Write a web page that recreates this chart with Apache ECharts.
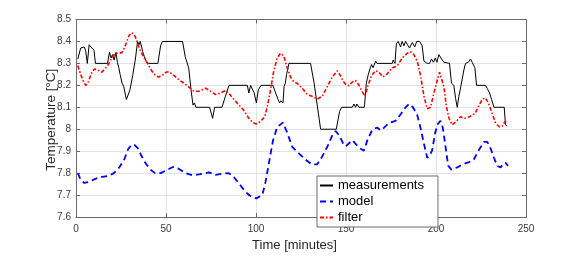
<!DOCTYPE html>
<html><head><meta charset="utf-8">
<script src="https://cdn.jsdelivr.net/npm/echarts@6/dist/echarts.min.js"></script>
<style>html,body{margin:0;padding:0;background:#fff}#c{width:581px;height:257px}</style>
</head><body><div id="c"></div>
<script>
var xTicks = [0, 50, 100, 150, 200, 250];
var yTicks = [7.6, 7.7, 7.8, 7.9, 8.0, 8.1, 8.2, 8.3, 8.4, 8.5];
var seriesNames = ['measurements', 'model', 'filter'];

var measurements = [[1,8.32],[2,8.32],[2.6,8.37],[3.5,8.365],[4.6,8.375],[5.3,8.36],[6.3,8.3],[7.3,8.385],[8.8,8.37],[10,8.36],[10.8,8.3],[17.5,8.3],[18.6,8.35],[19.5,8.325],[20.3,8.34],[21.2,8.315],[22.2,8.35],[23,8.305],[23.8,8.28],[24.5,8.25],[25.6,8.21],[26.5,8.195],[28,8.135],[29,8.14],[30,8.18],[31.5,8.245],[33,8.32],[34.2,8.4],[35,8.385],[35.7,8.4],[37,8.355],[38,8.33],[39.5,8.3],[45.5,8.3],[47,8.38],[48,8.4],[59.2,8.4],[60.7,8.33],[62.6,8.28],[63.9,8.18],[65,8.11],[65.8,8.12],[66.6,8.1],[74.2,8.1],[75.9,8.05],[77,8.1],[81.1,8.1],[83,8.15],[85,8.2],[95.2,8.2],[96,8.165],[97,8.2],[99,8.165],[100.2,8.12],[101.3,8.18],[102.8,8.2],[109.4,8.2],[110.9,8.165],[112.3,8.135],[113.1,8.12],[113.8,8.13],[115,8.12],[115.6,8.195],[116.3,8.21],[117,8.25],[118.3,8.3],[130.3,8.3],[132.3,8.21],[134,8.11],[135.9,8.0],[144.6,8.0],[146.4,8.08],[147.6,8.1],[153.5,8.1],[154.4,8.115],[155.3,8.1],[156,8.115],[157.2,8.1],[160.2,8.1],[161.3,8.21],[162.4,8.25],[163.5,8.28],[164.2,8.295],[165,8.28],[166.5,8.31],[167.2,8.3],[175.7,8.3],[176.2,8.315],[177.2,8.3],[178,8.39],[179,8.4],[180.3,8.375],[181.2,8.4],[182.2,8.38],[183.1,8.4],[184.2,8.385],[185.3,8.37],[186.8,8.395],[188.2,8.375],[189.3,8.4],[190.9,8.4],[192.3,8.38],[193.3,8.31],[195.1,8.3],[196.4,8.3],[197.5,8.32],[198.6,8.305],[199.6,8.325],[200.5,8.305],[201.6,8.34],[203.1,8.32],[204.4,8.305],[207.5,8.3],[208.6,8.21],[209.9,8.2],[210.9,8.14],[211.8,8.1],[212.7,8.15],[213.8,8.195],[214.6,8.2],[215.5,8.27],[216.4,8.3],[217.9,8.305],[219.2,8.32],[220.1,8.305],[221.6,8.28],[222.5,8.2],[227.5,8.2],[228.5,8.185],[229.8,8.165],[230.9,8.135],[232.2,8.1],[237.9,8.1],[238.6,8.02],[239.6,8.015]];

var model = [[1,7.8],[2.6,7.77],[4.6,7.755],[7.2,7.76],[11,7.775],[14.6,7.783],[18.3,7.788],[21,7.8],[24,7.825],[26.8,7.862],[29,7.91],[31,7.93],[32.5,7.928],[34.2,7.915],[36,7.885],[38.4,7.848],[41,7.818],[44,7.8],[47,7.8],[50,7.812],[53.8,7.828],[57,7.82],[60.9,7.8],[64.9,7.79],[69,7.795],[73.8,7.803],[77.5,7.792],[81.2,7.797],[84.9,7.8],[87.7,7.782],[90.5,7.753],[93.8,7.718],[96.4,7.698],[100.1,7.685],[103.5,7.7],[105.3,7.76],[107.2,7.847],[109.4,7.947],[111.8,8.01],[114.9,8.03],[117.3,7.985],[120.1,7.92],[123.8,7.89],[127.5,7.862],[130.9,7.84],[134,7.84],[136.8,7.876],[139.6,7.92],[142.3,7.97],[144.2,7.992],[146.4,7.97],[148.8,7.928],[150,7.923],[153.5,7.95],[156.3,7.925],[158,7.912],[159.9,7.902],[161.8,7.948],[164.6,7.998],[167.3,8.008],[169.2,7.995],[171,8.006],[173.8,8.028],[177.5,8.038],[180.3,8.067],[183.1,8.1],[185,8.115],[187.2,8.1],[189.6,8.064],[191.4,8.006],[193.3,7.934],[195.1,7.87],[196.4,7.877],[197.9,7.905],[199.4,7.978],[200.7,8.021],[202.5,8.038],[203.8,8.006],[205.3,7.92],[206.8,7.833],[208.6,7.816],[211.8,7.826],[214.6,7.84],[218.3,7.85],[221,7.862],[223.8,7.905],[226.6,7.942],[228.5,7.942],[230.3,7.913],[232.2,7.87],[234,7.833],[235.9,7.826],[237.2,7.84],[238.6,7.847],[240,7.833]];

var filter = [[1,8.29],[2.6,8.25],[4,8.22],[5.4,8.2],[6.6,8.21],[7.9,8.24],[9.1,8.265],[10.5,8.275],[12.4,8.268],[14.3,8.26],[16.1,8.275],[18,8.295],[19.8,8.325],[21.7,8.345],[23.5,8.348],[25.4,8.348],[26.7,8.368],[28,8.394],[29.4,8.426],[30.8,8.44],[32.2,8.433],[33.5,8.411],[34.6,8.382],[36,8.353],[37.7,8.327],[39.6,8.302],[41.5,8.273],[43.3,8.252],[45.7,8.238],[48,8.245],[50,8.26],[51.6,8.262],[54.4,8.245],[57.2,8.225],[60,8.21],[62.7,8.192],[65.5,8.173],[68.3,8.173],[72,8.187],[74.8,8.173],[77.5,8.158],[80.3,8.165],[83.1,8.177],[85,8.163],[87.7,8.137],[90.5,8.11],[93.3,8.086],[96,8.05],[98.3,8.03],[100.1,8.024],[102.5,8.036],[104.9,8.057],[106.4,8.108],[108.1,8.18],[109.9,8.267],[111.8,8.325],[113.6,8.346],[115.5,8.332],[117.3,8.28],[119.2,8.237],[121,8.216],[122.9,8.209],[125.7,8.187],[128.5,8.158],[131.2,8.15],[134,8.137],[136.8,8.15],[139.6,8.194],[142.3,8.237],[145.1,8.266],[146.9,8.245],[148.3,8.22],[149.8,8.205],[151.6,8.198],[153.5,8.215],[155.3,8.222],[157.2,8.2],[159,8.172],[160.5,8.15],[162.3,8.2],[164.2,8.245],[166.4,8.267],[168.3,8.26],[170.5,8.238],[172.9,8.252],[175.7,8.28],[178.4,8.288],[181.2,8.324],[184,8.346],[185.9,8.353],[187.7,8.34],[189.6,8.31],[191.4,8.245],[193.3,8.151],[195.1,8.093],[197,8.1],[198.8,8.165],[200.7,8.223],[202,8.26],[203.1,8.252],[204.4,8.194],[205.7,8.107],[207.2,8.05],[209,8.02],[211.2,8.035],[213.6,8.057],[216,8.05],[218.6,8.057],[221.6,8.071],[223.8,8.107],[225.7,8.136],[227.2,8.144],[229,8.122],[230.9,8.079],[233.1,8.028],[235.3,8.01],[236.8,8.014],[238.3,8.035],[239.6,8.028]];

var FONT = '"Liberation Sans", Arial, Helvetica, sans-serif';
var chart = echarts.init(document.getElementById('c'), null, {renderer: 'canvas'});
var lineCol = '#6b6b6b';
var gridLine = {show: true, lineStyle: {color: '#e3e3e3', width: 1}};
function xAx(pos, showLabel) {
  return {
    type: 'value', position: pos, min: xTicks[0], max: xTicks[xTicks.length - 1],
    interval: xTicks[1] - xTicks[0],
    name: showLabel ? 'Time [minutes]' : '', nameLocation: 'middle', nameGap: 22,
    nameMoveOverlap: false,
    nameTextStyle: {fontFamily: FONT, fontSize: 13, color: '#262626', padding: [0, 13, 0, 0]},
    axisLine: {show: true, onZero: false, lineStyle: {color: lineCol, width: 1}},
    axisTick: {show: true, inside: true, length: 4, lineStyle: {color: lineCol}},
    axisLabel: {show: showLabel, fontFamily: FONT, fontSize: 10, color: '#3a3a3a', margin: 7},
    splitLine: showLabel ? gridLine : {show: false}
  };
}
function yAx(pos, showLabel) {
  return {
    type: 'value', position: pos, min: yTicks[0], max: yTicks[yTicks.length - 1],
    interval: 0.1,
    name: showLabel ? 'Temperature [°C]' : '', nameLocation: 'middle', nameGap: 18,
    nameMoveOverlap: false,
    nameTextStyle: {fontFamily: FONT, fontSize: 13.5, color: '#262626', padding: [0, 3, 0, 0]},
    axisLine: {show: true, onZero: false, lineStyle: {color: lineCol, width: 1}},
    axisTick: {show: true, inside: true, length: 4, lineStyle: {color: lineCol}},
    axisLabel: {show: showLabel, fontFamily: FONT, fontSize: 10, color: '#3a3a3a', margin: 5,
      formatter: function (v) { return String(Math.round(v * 10) / 10); }},
    splitLine: showLabel ? gridLine : {show: false}
  };
}
chart.setOption({
  animation: false,
  backgroundColor: '#ffffff',
  grid: {left: 76, right: 55, top: 19.5, bottom: 30, containLabel: false},
  xAxis: [xAx('bottom', true), xAx('top', false)],
  yAxis: [yAx('left', true), yAx('right', false)],
  legend: {
    orient: 'vertical', left: 317, top: 176,
    padding: [2, 14, 2, 2], itemGap: 1, itemWidth: 13, itemHeight: 10,
    backgroundColor: '#ffffff', borderColor: '#6b6b6b', borderWidth: 1, borderRadius: 0,
    itemStyle: {opacity: 0},
    textStyle: {fontFamily: FONT, fontSize: 13, color: '#000', lineHeight: 15},
    data: seriesNames
  },
  series: [
    {name: seriesNames[0], type: 'line', data: measurements, symbol: 'none', z: 3,
      lineStyle: {color: '#000000', width: 1}, itemStyle: {color: '#000000'}},
    {name: seriesNames[1], type: 'line', data: model, symbol: 'none', z: 2,
      lineStyle: {color: '#0000ff', width: 1.8, type: [6, 4]}, itemStyle: {color: '#0000ff'}},
    {name: seriesNames[2], type: 'line', data: filter, symbol: 'none', z: 4,
      lineStyle: {color: '#ff0000', width: 1.6, type: [4, 2, 1.5, 2]}, itemStyle: {color: '#ff0000'}}
  ]
});
</script></body></html>
